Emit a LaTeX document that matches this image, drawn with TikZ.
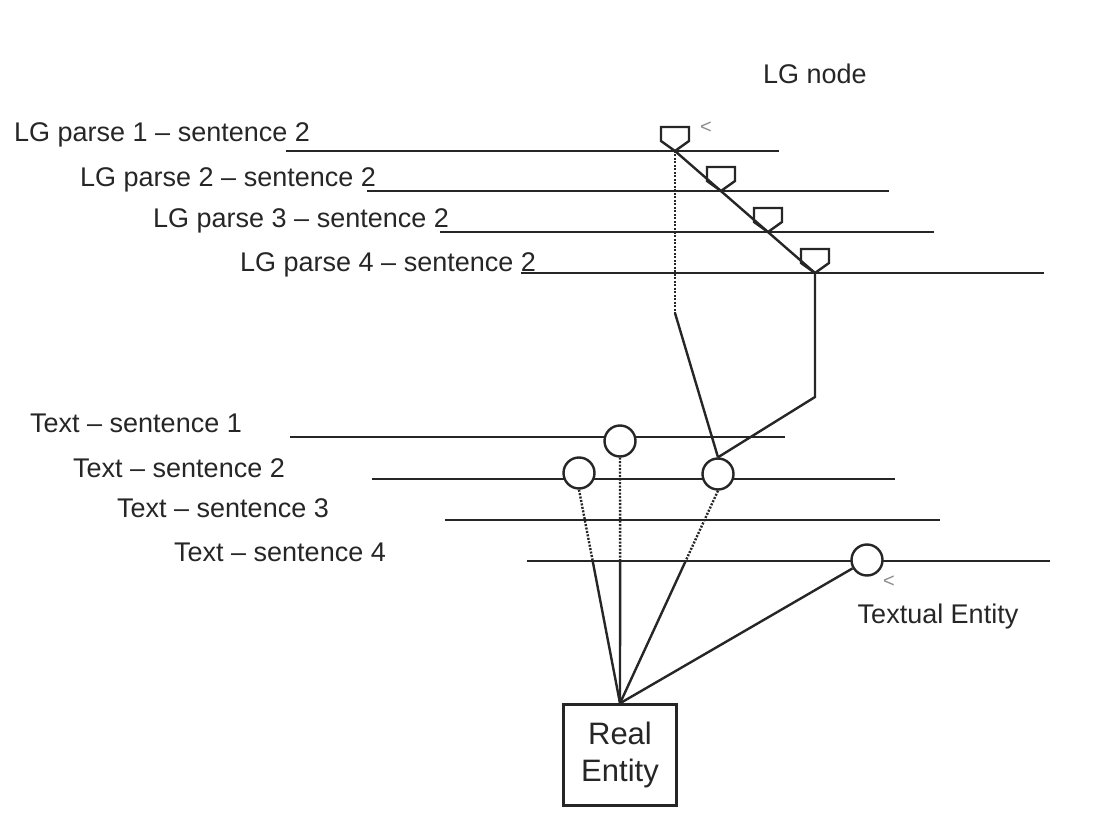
\documentclass[tikz,border=0pt]{standalone}
\usepackage{fontspec}
\setmainfont{Liberation Sans}
\usetikzlibrary{calc}
\begin{document}
\begin{tikzpicture}[x=1pt,y=-1pt,
  ln/.style={line width=2.4pt, black!85},
  dsh/.style={line width=2.4pt, black!85, dash pattern=on 2pt off 1.5pt},
  lbl/.style={anchor=base west, inner sep=0pt, font=\fontsize{27}{32}\selectfont, text=black!85},
  ctr/.style={anchor=base, inner sep=0pt, font=\fontsize{27}{32}\selectfont, text=black!85},
  ent/.style={circle, draw=black!85, line width=2.4pt, minimum size=31pt, inner sep=0pt, fill=white},
  tick/.style={inner sep=0pt, font=\fontsize{20}{20}\selectfont, text=black!45},
  lgnode/.pic={\draw[line width=2.4pt, black!85, line join=miter] (0,0) -- (-14,-10) -- (-14,-24) -- (14,-24) -- (14,-10) -- cycle;}]
\useasboundingbox (0,0) rectangle (1104,832);

% LG parse lines
\node[lbl] (t1) at (14,142) {LG parse 1 – sentence 2};
\node[lbl] (t2) at (80,187) {LG parse 2 – sentence 2};
\node[lbl] (t3) at (153,228) {LG parse 3 – sentence 2};
\node[lbl] (t4) at (240,271) {LG parse 4 – sentence 2};
\coordinate (p1a) at (286,151); \coordinate (p1b) at (779,151);
\coordinate (p2a) at (367,191); \coordinate (p2b) at (889,191);
\coordinate (p3a) at (440,232); \coordinate (p3b) at (934,232);
\coordinate (p4a) at (521,273); \coordinate (p4b) at (1044,273);
\draw[ln] (p1a) -- (p1b);
\draw[ln] (p2a) -- (p2b);
\draw[ln] (p3a) -- (p3b);
\draw[ln] (p4a) -- (p4b);

% Text lines
\node[lbl] (s1) at (30,432) {Text – sentence 1};
\node[lbl] (s2) at (73,477) {Text – sentence 2};
\node[lbl] (s3) at (117,517) {Text – sentence 3};
\node[lbl] (s4) at (174,561) {Text – sentence 4};
\coordinate (q1a) at (290,437); \coordinate (q1b) at (785,437);
\coordinate (q2a) at (372,479); \coordinate (q2b) at (895,479);
\coordinate (q3a) at (445,520); \coordinate (q3b) at (940,520);
\coordinate (q4a) at (527,561); \coordinate (q4b) at (1050,561);
\draw[ln] (q1a) -- (q1b);
\draw[ln] (q2a) -- (q2b);
\draw[ln] (q3a) -- (q3b);
\draw[ln] (q4a) -- (q4b);

% LG nodes
\coordinate (g1) at (675,151);
\coordinate (g2) at (721,191);
\coordinate (g3) at (768,232);
\coordinate (g4) at (815,273);
\pic at (g1) {lgnode};
\pic at (g2) {lgnode};
\pic at (g3) {lgnode};
\pic at (g4) {lgnode};
\draw[ln] (g1) -- (g4);
\node[ctr] (lgn) at (815,84) {LG node};
\node[tick] (m1) at (706,128) {<};

% Textual entities
\node[ent] (c1) at (620,441) {};
\node[ent] (c2) at (579,473) {};
\node[ent] (c3) at (718,474) {};
\node[ent] (c4) at (867,560) {};
\node[ctr] (te) at (938,623) {Textual Entity};
\node[tick] (m2) at (889,582) {<};

% Real entity
\node[draw=black!85, line width=2.4pt, minimum width=113pt, minimum height=101pt, inner sep=0pt,
  align=center, font=\fontsize{31}{37}\selectfont, text=black!85] (re) at (620,755) {Real\\Entity};

% links LG -> text entity
\coordinate (k1) at (675,313);
\coordinate (k2) at (815,397);
\draw[dsh] (g1) -- (k1);
\draw[ln] (k1) -- (c3.north);
\draw[ln] (g4) -- (k2) -- (c3.north);

% links text entities -> real entity
\coordinate (b1) at (intersection of c1.south--re.north and q4a--q4b);
\coordinate (b2) at (intersection of c2.south--re.north and q4a--q4b);
\coordinate (b3) at (intersection of c3.south--re.north and q4a--q4b);
\draw[dsh] (c1.south) -- (b1);
\draw[ln] (b1) -- (re.north);
\draw[dsh] (c2.south) -- (b2);
\draw[ln] (b2) -- (re.north);
\draw[dsh] (c3.south) -- (b3);
\draw[ln] (b3) -- (re.north);
\draw[ln] (c4) -- (re.north);
\end{tikzpicture}
\end{document}
